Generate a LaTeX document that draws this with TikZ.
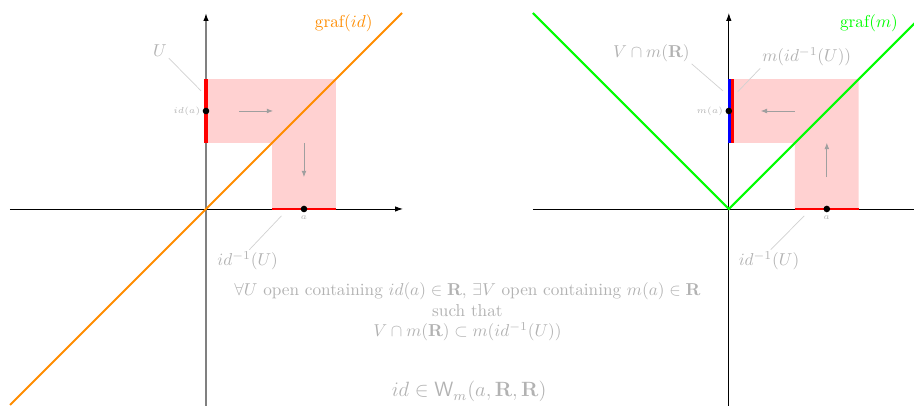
\documentclass[tikz,border=0pt]{standalone}
\usepackage{amsmath,amssymb}
\usetikzlibrary{arrows.meta}
\definecolor{grafid}{RGB}{255,140,0}

\begin{document}
\begin{tikzpicture}[
  x=1cm, y=1cm,
  axis/.style ={draw,line width=0.5pt,-{Latex[length=1.6mm,width=1.1mm]}},
  band/.style ={fill=red!18},
  seg/.style  ={draw=red,line width=1.6pt},
  flow/.style ={draw,gray!75,-{Latex[length=1.3mm,width=1mm]},line width=0.5pt},
  lead/.style ={draw,black!18,line width=0.4pt},
  dot/.style  ={circle,fill=black,inner sep=0,minimum size=1.35mm},
  lab/.style  ={text=gray!60,inner sep=1pt},
  tick/.style ={text=gray!60,font=\tiny,inner sep=1pt},
]
\useasboundingbox (-4.204,-4.02) rectangle (14.449,4.265);
\clip (-4.204,-4.02) rectangle (14.449,4.265);

% ----------------------------------------------------------- both panels: band, x-axis, interval
\foreach \k/\o in {L/0, R/10.67} {
  \fill[band] (\o,1.35) -- (\o,2.65) -- (\o+2.65,2.65) -- (\o+2.65,0)
    -- (\o+1.35,0) -- (\o+1.35,1.35) -- cycle;
  \draw[axis] (\o-4,0) -- (\o+4.02,0);
  \draw[seg] (\o+1.35,0) -- (\o+2.65,0);
  \coordinate (in\k) at (\o+1.54,-0.14);
}

% ----------------------------------------------------------- left panel, graf(id)
\draw[axis,draw=gray,line width=0.9pt,-{Latex[black,length=1.6mm,width=1.1mm]}]
  (0,-4.1) -- (0,4);
\draw[grafid,line width=1.2pt] (-4,-4) -- (4,4);
\draw[seg,line width=2.2pt] (0,1.35) -- (0,2.65);
\node[dot] (idA) at (0,2) {};
\node[dot] (aL) at (2,0) {};
\node[tick,anchor=east] (tidA) at (idA.west) {$id(a)$};
\node[tick,below=0.6pt] (taL) at (aL.south) {$a$};
\node[text=grafid] (grId) at (2.81,3.8) {graf$(id)$};

\coordinate (hL0) at (0.68,2);     \coordinate (hL1) at (1.37,2);
\coordinate (vL0) at (2,1.35);     \coordinate (vL1) at (2,0.65);
\draw[flow] (hL0) -- (hL1);
\draw[flow] (vL0) -- (vL1);

\coordinate (uTip) at (-0.1,2.41);
\node[lab] (lbU) at (-0.94,3.24) {$U$};
\draw[lead] (lbU.south east) -- (uTip);
\node[lab] (lbIL) at (0.85,-1.06) {$id^{-1}(U)$};
\draw[lead] ([xshift=1pt]lbIL.north) -- (inL);

% ----------------------------------------------------------- right panel, graf(m)
\draw[axis] (10.67,-4.1) -- (10.67,4);
\draw[green,line width=1.2pt] (6.67,4) -- (10.67,0) -- (14.67,4);
\draw[draw=blue,line width=2pt] (10.685,1.35) -- (10.685,2.65);
\draw[seg,line width=1.5pt] (10.745,1.35) -- (10.745,2.65);
\node[dot] (maR) at (10.67,2) {};
\node[dot] (aR) at (12.67,0) {};
\node[tick,anchor=east] (tmaR) at (maR.west) {$m(a)$};
\node[tick,below=0.6pt] (taR) at (aR.south) {$a$};
\node[text=green] (grM) at (13.53,3.8) {graf$(m)$};

\coordinate (hR0) at (12.02,2);    \coordinate (hR1) at (11.32,2);
\coordinate (vR0) at (12.67,0.65); \coordinate (vR1) at (12.67,1.35);
\draw[flow] (hR0) -- (hR1);
\draw[flow] (vR0) -- (vR1);

\coordinate (vTip) at (10.55,2.41);
\coordinate (mTip) at (10.85,2.39);
\node[lab] (lbV) at (9.09,3.18) {$V\cap m(\mathbf{R})$};
\draw[lead] (lbV.south east) -- (vTip);
\node[lab] (lbM) at (12.26,3.1) {$m(id^{-1}(U))$};
\draw[lead] (lbM.south west) -- (mTip);
\node[lab] (lbIR) at (11.49,-1.06) {$id^{-1}(U)$};
\draw[lead] ([xshift=1pt]lbIR.north) -- (inR);

% ----------------------------------------------------------- statement
\node[lab,align=center] (stmt) at (5.335,-2.1)
  {$\forall U$ open containing $id(a)\in\mathbf{R}$, $\exists V$ open containing $m(a)\in\mathbf{R}$\\
   such that\\
   $V\cap m(\mathbf{R})\subset m(id^{-1}(U))$};
\node[lab,font=\large] (concl) at (5.37,-3.73) {$id\in\mathsf{W}_m(a,\mathbf{R},\mathbf{R})$};

\end{tikzpicture}
\end{document}
